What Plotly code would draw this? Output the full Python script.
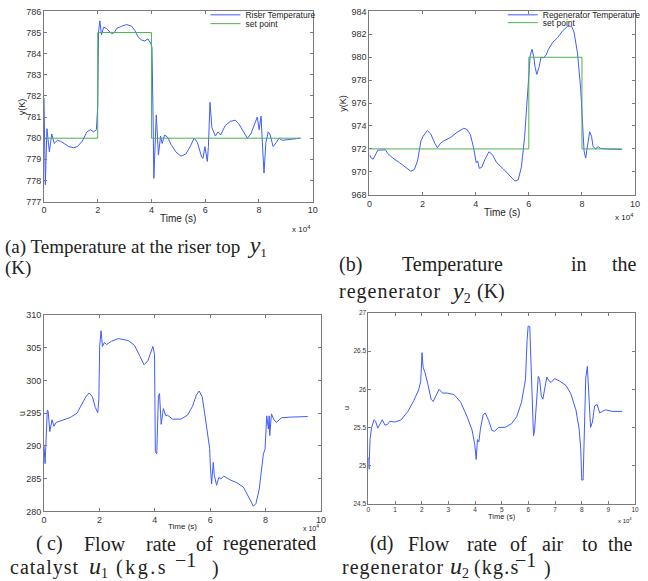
import plotly.graph_objects as go

W, H = 648, 581

# ---------------- data (time in units of 1e4 s) ----------------
t_a = [0, 0.05, 0.11, 0.2, 0.29, 0.38, 0.5, 0.62, 0.75, 0.93, 1.1, 1.24, 1.42, 1.6, 1.73, 1.85, 1.95, 2.0,
       2.03, 2.08, 2.14, 2.22, 2.32, 2.4, 2.52, 2.62, 2.71, 2.89, 3.08, 3.26, 3.38, 3.5, 3.63, 3.75, 3.87,
       3.97, 4.02, 4.06, 4.09, 4.18, 4.26, 4.34, 4.4, 4.49, 4.6, 4.73, 4.91, 5.1, 5.28, 5.44, 5.59, 5.71,
       5.87, 5.92, 5.99, 6.08, 6.12, 6.18, 6.25, 6.38, 6.48, 6.57, 6.75, 6.94, 7.12, 7.24, 7.43, 7.57, 7.7,
       7.86, 7.94, 8.01, 8.08, 8.14, 8.19, 8.26, 8.35, 8.41, 8.53, 8.65, 8.75, 8.87, 9.14, 9.55]
y_a = [781.9, 777.8, 780.45, 779.35, 780.2, 779.75, 779.9, 779.85, 779.75, 779.6, 779.55, 779.6, 779.85, 780.3,
       780.4, 780.3, 780.4, 781.5, 785.0, 785.55, 784.9, 785.25, 785.2, 785.1, 784.95, 785.0, 785.2, 785.3,
       785.38, 785.3, 785.1, 784.8, 784.65, 784.6, 784.7, 784.5, 784.3, 781.0, 778.1, 781.1, 779.2, 780.1,
       779.75, 780.15, 780.05, 779.7, 779.35, 779.15, 779.25, 779.6, 780.0, 779.8, 779.1, 779.05, 779.6,
       778.9, 779.6, 781.7, 780.5, 780.1, 780.3, 780.15, 780.6, 780.8, 780.85, 780.7, 780.3, 780.0, 780.2,
       780.8, 781.0, 780.4, 781.05, 779.5, 778.35, 779.8, 780.3, 780.2, 779.6, 779.8, 780.0, 779.9, 779.95,
       780.0]
sp_t_a = [0, 2, 2, 4, 4, 9.55]
sp_y_a = [780, 780, 785, 785, 780, 780]

t_b = [0, 0.07, 0.14, 0.22, 0.32, 0.45, 0.6, 0.69, 0.88, 1.13, 1.38, 1.56, 1.69, 1.81, 1.94, 2.02, 2.18, 2.31,
       2.46, 2.56, 2.68, 2.8, 3.05, 3.3, 3.55, 3.67, 3.8, 3.92, 4.02, 4.07, 4.14, 4.23, 4.35, 4.5, 4.63, 4.79,
       5.04, 5.29, 5.47, 5.6, 5.72, 5.84, 5.91, 5.99, 6.05, 6.12, 6.18, 6.24, 6.3, 6.38, 6.46, 6.55, 6.65,
       6.74, 6.9, 7.08, 7.27, 7.46, 7.61, 7.7, 7.83, 7.95, 8.01, 8.08, 8.14, 8.21, 8.29, 8.36, 8.42, 8.51,
       8.61, 8.7, 8.88, 9.5]
y_b = [971.5, 971.2, 971.1, 971.5, 971.9, 971.9, 971.93, 971.6, 971.2, 970.8, 970.4, 970.05, 970.2, 970.95,
       972.7, 973.1, 973.6, 973.3, 972.5, 972.1, 972.5, 972.7, 973.0, 973.45, 973.8, 973.7, 973.25, 972.1,
       970.8, 970.95, 970.3, 970.4, 971.1, 971.75, 971.5, 970.8, 970.25, 969.65, 969.2, 969.3, 970.4, 973.0,
       975.3, 978.7, 980.1, 980.7, 980.1, 979.1, 978.5, 979.1, 980.0, 979.95, 980.2, 980.7, 981.3, 981.7,
       982.3, 982.7, 982.7, 982.2, 980.4, 977.3, 974.4, 971.8, 971.2, 972.2, 973.5, 973.1, 972.2, 972.0,
       972.2, 972.05, 972.0, 971.95]
sp_t_b = [0, 6, 6, 8, 8, 9.5]
sp_y_b = [972, 972, 980, 980, 972, 972]

t_c = [0, 0.04, 0.12, 0.15, 0.21, 0.29, 0.36, 0.44, 0.65, 0.95, 1.19, 1.37, 1.51, 1.63, 1.75, 1.85, 1.94,
       1.98, 2.01, 2.06, 2.11, 2.18, 2.26, 2.44, 2.68, 3.04, 3.27, 3.45, 3.61, 3.75, 3.93, 3.99, 4.02, 4.07,
       4.13, 4.17, 4.23, 4.31, 4.4, 4.46, 4.64, 4.94, 5.18, 5.36, 5.5, 5.6, 5.71, 5.8, 5.92, 5.98, 6.01,
       6.05, 6.11, 6.15, 6.23, 6.31, 6.39, 6.49, 6.73, 6.96, 7.2, 7.38, 7.56, 7.65, 7.77, 7.92, 7.98, 8.04,
       8.1, 8.13, 8.15, 8.21, 8.3, 8.39, 8.57, 8.87, 9.52]
y_c = [290.0, 287.3, 295.5, 295.3, 292.2, 294.0, 293.0, 293.6, 293.9, 294.35, 295.0, 296.3, 297.5, 298.1,
       297.5, 295.9, 295.1, 297.0, 305.2, 307.6, 305.2, 305.8, 305.5, 306.0, 306.4, 306.1, 305.35, 303.8,
       302.4, 303.0, 305.2, 304.0, 289.1, 288.8, 297.6, 298.0, 293.3, 295.7, 294.6, 294.7, 294.1, 294.1,
       294.7, 296.05, 297.75, 298.4, 297.5, 295.0, 291.05, 289.6, 286.5, 284.2, 287.5, 285.5, 284.0, 285.2,
       285.0, 285.4, 284.8, 284.4, 283.7, 282.3, 280.8, 281.2, 283.4, 288.8, 289.5, 294.6, 292.6, 294.6,
       291.6, 294.9, 294.0, 293.6, 294.3, 294.4, 294.5]

t_d = [0, 0.02, 0.06, 0.12, 0.21, 0.27, 0.35, 0.43, 0.52, 0.62, 0.72, 0.8, 0.99, 1.23, 1.48, 1.7, 1.88, 1.96,
       2.01, 2.05, 2.12, 2.22, 2.35, 2.43, 2.53, 2.65, 2.78, 2.96, 3.21, 3.46, 3.7, 3.89, 3.99, 4.04, 4.09,
       4.14, 4.2, 4.3, 4.38, 4.51, 4.63, 4.73, 4.88, 5.12, 5.37, 5.56, 5.74, 5.89, 5.95, 5.99, 6.05, 6.11,
       6.15, 6.19, 6.23, 6.3, 6.37, 6.42, 6.48, 6.54, 6.6, 6.69, 6.77, 6.85, 6.98, 7.16, 7.41, 7.59, 7.78,
       7.9, 7.96, 8.0, 8.05, 8.1, 8.15, 8.21, 8.26, 8.33, 8.4, 8.48, 8.58, 8.67, 8.77, 8.89, 9.14, 9.51]
y_d = [25.11, 24.95, 25.34, 25.5, 25.6, 25.58, 25.49, 25.55, 25.6, 25.53, 25.54, 25.58, 25.57, 25.6, 25.71,
       25.85, 25.99, 26.1, 26.48, 26.29, 26.22, 26.08, 25.87, 25.84, 25.91, 26.0, 25.95, 25.95, 25.93, 25.83,
       25.64, 25.46, 25.27, 25.08, 25.34, 25.31, 25.48, 25.66, 25.69, 25.59, 25.46, 25.45, 25.5, 25.5, 25.55,
       25.64, 25.83, 26.13, 26.65, 26.83, 26.82, 26.19, 25.64, 25.39, 25.46, 25.9, 26.17, 26.13, 25.92, 25.87,
       26.0, 26.16, 26.11, 26.09, 26.14, 26.11, 26.05, 25.94, 25.73, 25.48, 25.23, 24.81, 24.81, 25.55, 26.15,
       26.3, 25.96, 25.5, 25.57, 25.78, 25.8, 25.69, 25.71, 25.73, 25.71, 25.71]

ticks_a = [777, 778, 779, 780, 781, 782, 783, 784, 785, 786]
ticks_b = [968, 970, 972, 974, 976, 978, 980, 982, 984]
ticks_c = [280, 285, 290, 295, 300, 305, 310]
ticks_d = [24.5, 25, 25.5, 26, 26.5, 27]
xt_abc = [0, 2, 4, 6, 8, 10]
xt_d = [0, 1, 2, 3, 4, 5, 6, 7, 8, 9, 10]

BLUE = "#3f5cff"
GREEN = "#4fb04f"

# ---------------- layout boxes (pixels: left, right, top, bottom) ----------------
boxes = {
    "a": (41.5, 313.5, 3.5, 198),
    "b": (371, 640, 3.5, 191),
    "c": (41.5, 322, 314, 515),
    "d": (370, 640, 312, 507),
}


def dom(b):
    l, r, t, bt = b
    return [l / W, r / W], [1 - bt / H, 1 - t / H]


def px(x):
    return x / W


def py(y):
    return 1 - y / H


fig = go.Figure()

fig.add_trace(go.Scatter(x=t_a, y=y_a, mode="lines", line=dict(color=BLUE, width=1),
                         name="Riser Temperature", xaxis="x", yaxis="y", legend="legend"))
fig.add_trace(go.Scatter(x=sp_t_a, y=sp_y_a, mode="lines", line=dict(color=GREEN, width=1),
                         name="set point", xaxis="x", yaxis="y", legend="legend2"))
fig.add_trace(go.Scatter(x=t_b, y=y_b, mode="lines", line=dict(color=BLUE, width=1),
                         name="Regenerator Temperature", xaxis="x2", yaxis="y2", legend="legend3"))
fig.add_trace(go.Scatter(x=sp_t_b, y=sp_y_b, mode="lines", line=dict(color=GREEN, width=1),
                         name="set point", xaxis="x2", yaxis="y2", legend="legend4"))
fig.add_trace(go.Scatter(x=t_c, y=y_c, mode="lines", line=dict(color=BLUE, width=1),
                         showlegend=False, xaxis="x3", yaxis="y3"))
fig.add_trace(go.Scatter(x=t_d, y=y_d, mode="lines", line=dict(color=BLUE, width=1),
                         showlegend=False, xaxis="x4", yaxis="y4"))

TF = "Liberation Sans, Arial, sans-serif"


def axstyle(size):
    return dict(showline=True, mirror="ticks", linecolor="#7a7a7a", linewidth=1, ticks="inside",
                ticklen=3, tickcolor="#7a7a7a", showgrid=False, zeroline=False,
                tickfont=dict(family=TF, size=size, color="#333333"))


lay = {}
names = ["a", "b", "c", "d"]
yt = [ticks_a, ticks_b, ticks_c, ticks_d]
xt = [xt_abc, xt_abc, xt_abc, xt_d]
yr = [[777, 786], [968, 984], [280, 310], [24.5, 27]]
fs = [9, 9, 9, 6.5]
for i, n in enumerate(names):
    xd, yd = dom(boxes[n])
    sx = "" if i == 0 else str(i + 1)
    lay["xaxis" + sx] = dict(domain=xd, range=[0, 10], tickvals=xt[i], anchor="y" + sx, **axstyle(fs[i]))
    lay["yaxis" + sx] = dict(domain=yd, range=yr[i], tickvals=yt[i], anchor="x" + sx, **axstyle(fs[i]))

lf = dict(family=TF, size=8.5, color="#222222")
leg = dict(bgcolor="rgba(0,0,0,0)", borderwidth=0, font=lf, itemwidth=30, xanchor="left",
           yanchor="middle", tracegroupgap=0)
lay["legend"] = dict(x=px(205), y=py(7), **leg)
lay["legend2"] = dict(x=px(205), y=py(16), **leg)
lay["legend3"] = dict(x=px(506), y=py(7), **leg)
lay["legend4"] = dict(x=px(506), y=py(15), **leg)

fig.update_layout(width=W, height=H, margin=dict(l=0, r=0, t=0, b=0), paper_bgcolor="white",
                  plot_bgcolor="white", **lay)

ann = []


def A(text, x, y, size, family=TF, xanchor="center", angle=0, color="#222222"):
    ann.append(dict(text=text, x=px(x), y=py(y), xref="paper", yref="paper", showarrow=False,
                    xanchor=xanchor, yanchor="middle", textangle=angle,
                    font=dict(family=family, size=size, color=color)))


def cx(n):
    return (boxes[n][0] + boxes[n][1]) / 2


def cy(n):
    return (boxes[n][2] + boxes[n][3]) / 2


# axis labels
A("Time (s)", cx("a"), 215, 10)
A("Time (s)", cx("b"), 209, 10)
A("Time (s)", cx("c"), 530, 8)
A("Time (s)", cx("d"), 520, 7.5)
A("y(K)", 20, cy("a"), 9, angle=-90)
A("y(K)", 344, cy("b"), 9, angle=-90)
A("u", 19, cy("c"), 9, angle=-90)
A("u", 348, cy("d"), 7, angle=-90)
A("x 10<sup>4</sup>", 313, 226, 8, xanchor="right")
A("x 10<sup>4</sup>", 640, 214, 8, xanchor="right")
A("x 10<sup>4</sup>", 322, 532, 7, xanchor="right")
A("x 10<sup>4</sup>", 639, 524, 6, xanchor="right")

# captions
SF = "Liberation Serif, Times New Roman, serif"
CS = 19
C2 = 20
BIG = '<span style="font-size:24px"><i>%s</i></span><sub>%s</sub>'


def sp(txt, ls):
    return '<span style="letter-spacing:%spx">%s</span>' % (ls, txt)


A("(a) Temperature at the riser top  " + BIG % ("y", "1"), 0, 243, CS, SF, "left")
A("(K)", 0, 266, CS, SF, "left")
for w, x in [("(b)", 338), ("Temperature", 402), ("in", 573), ("the", 615)]:
    A(w, x, 262, C2, SF, "left")
A(sp("regenerator", 1), 338, 290, C2, SF, "left")
A(BIG % ("y", "2"), 452, 290, C2, SF, "left")
A("(K)", 478, 290, C2, SF, "left")

for w, x in [("(", 31), ("c)", 43), ("Flow", 80), ("rate", 143), ("of", 193), ("regenerated", 221)]:
    A(w, x, 548, C2, SF, "left")
A(sp("catalyst", 1), 5, 572, C2, SF, "left")
A(BIG % ("u", "1"), 85, 572, C2, SF, "left")
A(sp("(kg.s", 2.5), 112, 572, C2, SF, "left")
A("\u22121", 172, 565, C2, SF, "left")
A(")", 210, 573, C2, SF, "left")

for w, x in [("(d)", 370), ("Flow", 408), ("rate", 468), ("of", 511), ("air", 544), ("to", 584), ("the", 611)]:
    A(w, x, 548, C2, SF, "left")
A(sp("regenerator", 1), 341, 572, C2, SF, "left")
A(BIG % ("u", "2"), 451, 572, C2, SF, "left")
A(sp("(kg.s", 1.2), 475, 572, C2, SF, "left")
A("\u22121", 516, 565, C2, SF, "left")
A(")", 546, 573, C2, SF, "left")

fig.update_layout(annotations=ann)
fig.write_html("out.html")
